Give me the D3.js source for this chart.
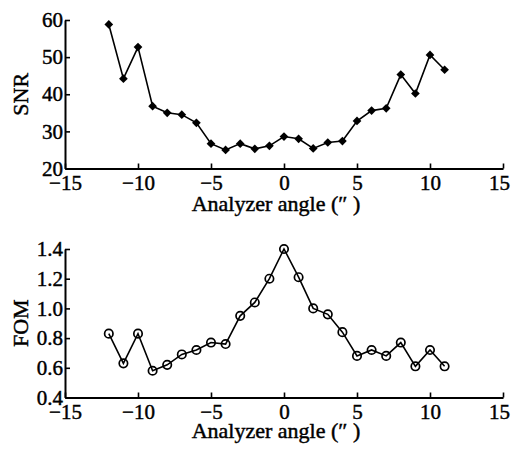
<!DOCTYPE html>
<html>
<head>
<meta charset="utf-8">
<script src="https://cdn.jsdelivr.net/npm/d3@7.9.0/dist/d3.min.js"></script>
<style>
  html, body { margin: 0; padding: 0; background: #fff; }
  svg { display: block; }
  text { font-family: "Liberation Serif", "Times New Roman", serif; fill: #000; }
</style>
</head>
<body>
<div id="chart"></div>
<script>
// ── Data ─────────────────────────────────────────────────────────────────────
const angles = [-12, -11, -10, -9, -8, -7, -6, -5, -4, -3, -2, -1, 0, 1, 2, 3, 4, 5, 6, 7, 8, 9, 10, 11];
const snr = [58.8, 44.2, 52.7, 36.8, 35.0, 34.5, 32.3, 26.7, 25.0, 26.7, 25.3, 26.1,
             28.6, 28.0, 25.4, 27.0, 27.4, 32.8, 35.6, 36.2, 45.3, 40.2, 50.6, 46.6];
const fom = [0.83, 0.63, 0.83, 0.58, 0.62, 0.69, 0.72, 0.77, 0.76, 0.95, 1.04, 1.20,
             1.40, 1.21, 1.00, 0.96, 0.84, 0.68, 0.72, 0.68, 0.77, 0.61, 0.72, 0.61];
const xTicks = [-15, -10, -5, 0, 5, 10, 15];
const snrTicks = [20, 30, 40, 50, 60];
const fomTicks = [0.4, 0.6, 0.8, 1.0, 1.2, 1.4];
const xLabel = 'Analyzer angle (\u2033 )';

// ── Layout ───────────────────────────────────────────────────────────────────
const width = 511, height = 450;
const svg = d3.select('#chart').append('svg')
  .attr('width', width).attr('height', height)
  .attr('viewBox', `0 0 ${width} ${height}`);

const xScale = d3.scaleLinear().domain([-15, 15]).range([65, 503]);

function panel({ values, yDomain, yRange, yTicks, yFormat, yLabel, xLabelY, marker }) {
  const yScale = d3.scaleLinear().domain(yDomain).range(yRange);
  const g = svg.append('g');

  // X axis (inward ticks)
  const xa = g.append('g')
    .attr('transform', `translate(0,${yRange[0]})`)
    .call(d3.axisBottom(xScale).tickValues(xTicks).tickSize(-5).tickSizeOuter(0).tickPadding(7));
  // last label sits a little left of its tick, as in the source
  xa.selectAll('.tick text').filter((d) => d === 15).attr('dx', -4);

  // Y axis (inward ticks)
  const ya = g.append('g')
    .attr('transform', `translate(${xScale.range()[0]},0)`)
    .call(d3.axisLeft(yScale).tickValues(yTicks).tickFormat(yFormat).tickSize(-5).tickSizeOuter(0).tickPadding(2));

  for (const a of [xa, ya]) {
    a.select('.domain').attr('stroke-width', 2);
    a.selectAll('.tick line').attr('stroke-width', 1.6);
    a.selectAll('text')
      .attr('font-size', 21)
      .attr('font-family', '"Liberation Serif", serif')
      .attr('stroke', '#000').attr('stroke-width', 0.45);
  }

  // Axis titles
  g.append('text')
    .attr('x', 276).attr('y', xLabelY)
    .attr('text-anchor', 'middle')
    .attr('font-size', 22)
    .attr('stroke', '#000').attr('stroke-width', 0.45)
    .text(xLabel);

  g.append('text')
    .attr('transform', `translate(28,${(yRange[0] + yRange[1]) / 2}) rotate(-90)`)
    .attr('text-anchor', 'middle')
    .attr('font-size', 22)
    .attr('stroke', '#000').attr('stroke-width', 0.45)
    .text(yLabel);

  // Line
  const line = d3.line().x((d, i) => xScale(angles[i])).y((d) => yScale(d));
  g.append('path')
    .datum(values)
    .attr('d', line)
    .attr('fill', 'none')
    .attr('stroke', '#000')
    .attr('stroke-width', 1.6);

  // Markers
  if (marker === 'diamond') {
    g.append('g').selectAll('path')
      .data(values)
      .join('path')
      .attr('d', d3.symbol(d3.symbolSquare, 38))
      .attr('transform', (d, i) => `translate(${xScale(angles[i])},${yScale(d)}) rotate(45)`)
      .attr('fill', '#000');
  } else {
    g.append('g').selectAll('circle')
      .data(values)
      .join('circle')
      .attr('cx', (d, i) => xScale(angles[i]))
      .attr('cy', (d) => yScale(d))
      .attr('r', 4.2)
      .attr('fill', 'none')
      .attr('stroke', '#000')
      .attr('stroke-width', 1.7);
  }
}

panel({
  values: snr, yDomain: [20, 60], yRange: [168.5, 20], yTicks: snrTicks,
  yFormat: d3.format('d'), yLabel: 'SNR', xLabelY: 211, marker: 'diamond',
});

panel({
  values: fom, yDomain: [0.4, 1.4], yRange: [397.5, 249], yTicks: fomTicks,
  yFormat: d3.format('.1f'), yLabel: 'FOM', xLabelY: 438, marker: 'circle',
});
</script>
</body>
</html>
